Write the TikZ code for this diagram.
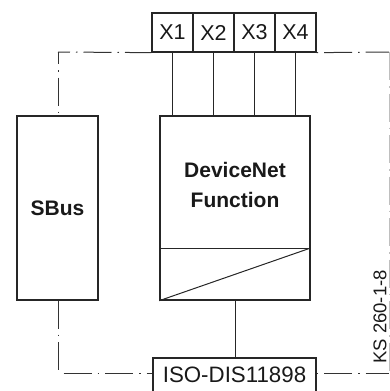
\documentclass[tikz,border=0pt]{standalone}
\usepackage{fontspec}
\setmainfont{Liberation Sans}
\begin{document}
\begin{tikzpicture}[x=1pt,y=-1pt,
  box/.style={draw=black!85,line width=1.3pt,inner sep=0pt,text=black!90},
  xbox/.style={box,minimum width=41pt,minimum height=39pt,font=\fontsize{21.5}{24}\selectfont},
  wire/.style={draw=black!85,line width=1pt},
  dashdot/.style={draw=black!80,line width=1pt,dash pattern=on 28pt off 6pt on 1.5pt off 6pt},
  faint/.style={draw=black!25,line width=1pt,dash pattern=on 28pt off 6pt on 1.5pt off 6pt}]
\useasboundingbox (0,0) rectangle (390,391);
\clip (0,0) rectangle (390,391);
\node[xbox] (X1) at (172.5,32.5) {X1};
\node[xbox] (X2) at (213.5,32.5) {X2};
\node[xbox] (X3) at (254.5,32.5) {X3};
\node[xbox] (X4) at (295.5,32.5) {X4};
\node[box,minimum width=81pt,minimum height=184pt,font=\bfseries\fontsize{21}{24}\selectfont] (SB) at (57.5,208) {SBus};
\node[box,minimum width=150pt,minimum height=184pt] (DN) at (235,208) {};
\node[align=center,font=\bfseries\fontsize{21}{30}\selectfont,text=black!90] (DNT) at (235,185) {DeviceNet\\Function};
\coordinate (dv1) at (DN.west |- 0,248);
\coordinate (dv2) at (DN.east |- 0,248);
\draw[wire] (dv1) -- (dv2);
\draw[wire] (DN.south west) -- (dv2);
\node[box,minimum width=163pt,minimum height=34pt,font=\fontsize{22.3}{24}\selectfont] (ISO) at (234.5,375) {ISO-DIS11898};
\foreach \i in {1,2,3,4} {\draw[wire] (X\i.south) -- (X\i.south |- DN.north);}
\draw[wire] (DN.south) -- (DN.south |- ISO.north);
\coordinate (tl) at (58,52);
\coordinate (bl) at (58,373);
\coordinate (tr) at (389,52);
\coordinate (br) at (389,373);
\draw[dashdot,dash phase=16pt] (tl) -- (X1.south west);
\draw[dashdot,dash phase=16pt] (tl) -- (SB.north -| tl);
\draw[dashdot] (SB.south -| bl) -- (bl);
\draw[dashdot,dash phase=36pt] (bl) -- (ISO.west |- bl);
\draw[dashdot,dash phase=34pt] (X4.south east) -- (tr);
\draw[dashdot,dash phase=34pt] (ISO.east |- br) -- (br);
\draw[faint] (tr) -- (br);
\node[rotate=90,font=\fontsize{18.5}{20}\selectfont,text=black!90] (KS) at (380,317) {KS 260-1-8};
\end{tikzpicture}
\end{document}
